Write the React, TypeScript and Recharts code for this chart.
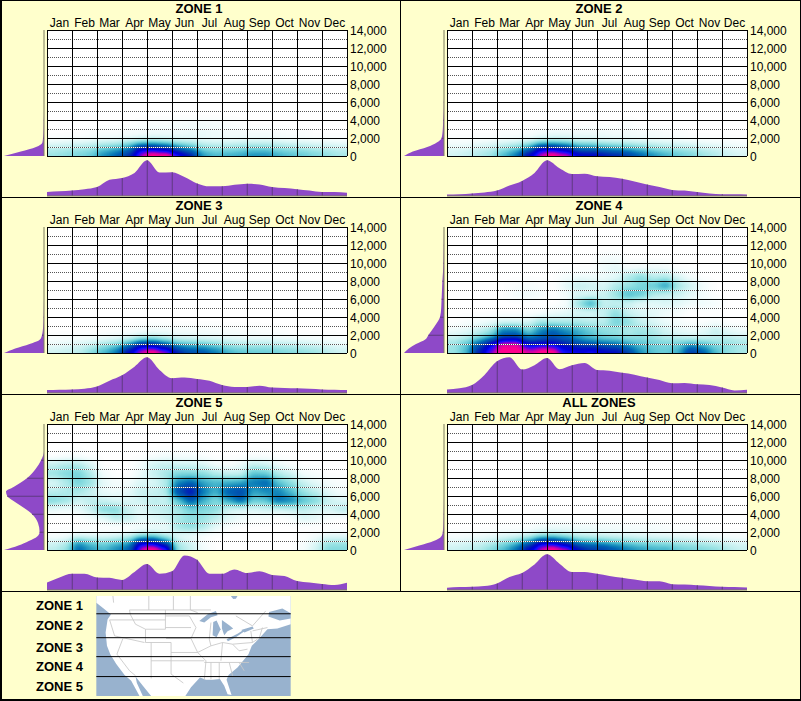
import { Area, Bar, CartesianGrid, ComposedChart, ReferenceLine, Scatter, ScatterChart, XAxis, YAxis } from "recharts";

const MONTHS = ["Jan", "Feb", "Mar", "Apr", "May", "Jun", "Jul", "Aug", "Sep", "Oct", "Nov", "Dec"];
const MONTH_TICKS = [0.5, 1.5, 2.5, 3.5, 4.5, 5.5, 6.5, 7.5, 8.5, 9.5, 10.5, 11.5];
const MONTH_LINES = [0, 1, 2, 3, 4, 5, 6, 7, 8, 9, 10, 11, 12];
const ALT_TICKS = [0, 2000, 4000, 6000, 8000, 10000, 12000, 14000];
const ALT_DOTTED = [1000, 3000, 5000, 7000, 9000, 11000, 13000];

// lower and upper edge of each heat row, bottom to top
const ROW_EDGES = [0, 500, 1000, 1500, 2000, 3000, 4000, 5000, 6000, 7000, 8000, 9000, 10000, 11000];
const SIDE_ALTS = [0, 500, 1000, 1500, 2000, 3000, 4000, 5000, 5500, 6000, 6500, 7000, 8000, 9000, 10000, 11000, 12000, 14000];

// white -> teal -> blue -> magenta, evenly spaced
const HEAT_RAMP = [
  "#ffffff", "#f0fcfc", "#dcf7f7", "#c4f0f0", "#a8e8e8", "#88dce0", "#68ccd8", "#44b4cc", "#2498c0", "#0a7cb8", "#0060b4",
  "#0050b0", "#0038b0", "#0020b8", "#0008c8", "#0000e0", "#1010ff", "#6000e0", "#c000b0", "#ff0090", "#ff0080",
];

// heat rows hold 24 half months, bottom row first
const heatZone1 = [
  [22, 24, 27, 30, 42, 50, 62, 90, 100, 100, 82, 68, 40, 34, 36, 38, 42, 42, 36, 33, 30, 27, 23, 20],
  [18, 20, 22, 24, 32, 38, 46, 80, 80, 72, 54, 42, 28, 25, 26, 27, 30, 30, 26, 24, 22, 20, 18, 16],
  [10, 12, 13, 15, 20, 22, 30, 44, 46, 42, 30, 26, 18, 16, 16, 18, 19, 19, 17, 15, 14, 12, 10, 9],
  [4, 5, 6, 7, 9, 10, 13, 18, 20, 17, 13, 11, 8, 7, 7, 8, 9, 9, 8, 6, 5, 4, 4, 3],
  [0, 0, 0, 1, 2, 2, 3, 4, 5, 5, 5, 6, 6, 5, 4, 4, 3, 3, 2, 1, 1, 0, 0, 0],
  [0, 0, 0, 0, 0, 0, 0, 1, 2, 2, 3, 4, 4, 3, 2, 1, 0, 0, 0, 0, 0, 0, 0, 0],
];
const heatZone2 = [
  [12, 14, 18, 22, 34, 46, 72, 92, 100, 94, 76, 74, 70, 66, 60, 50, 42, 36, 30, 27, 22, 18, 13, 11],
  [9, 10, 14, 16, 24, 32, 48, 80, 80, 70, 52, 50, 46, 42, 38, 34, 28, 24, 22, 20, 16, 14, 10, 8],
  [5, 6, 8, 10, 14, 18, 26, 44, 46, 42, 30, 30, 26, 24, 22, 19, 16, 14, 12, 11, 8, 7, 5, 4],
  [2, 2, 3, 4, 6, 7, 10, 18, 20, 18, 14, 13, 11, 10, 9, 8, 7, 6, 5, 4, 3, 2, 2, 1],
  [0, 0, 0, 0, 1, 1, 2, 4, 6, 6, 5, 5, 5, 4, 4, 3, 3, 2, 1, 0, 0, 0, 0, 0],
  [0, 0, 0, 0, 0, 0, 0, 0, 0, 0, 0, 0, 0, 0, 2, 0, 0, 0, 0, 0, 0, 0, 0, 0],
];
const heatZone3 = [
  [12, 14, 16, 25, 34, 46, 72, 92, 100, 90, 66, 56, 54, 46, 36, 32, 30, 30, 28, 26, 24, 22, 17, 13],
  [8, 10, 12, 17, 25, 32, 50, 80, 80, 64, 46, 40, 38, 32, 25, 22, 22, 22, 20, 19, 17, 15, 11, 9],
  [4, 5, 7, 9, 14, 18, 28, 44, 46, 36, 25, 23, 21, 18, 15, 13, 13, 13, 12, 11, 9, 8, 6, 5],
  [1, 2, 3, 4, 6, 7, 11, 18, 20, 15, 11, 10, 9, 8, 7, 6, 5, 5, 4, 4, 3, 2, 2, 1],
  [0, 0, 0, 0, 0, 1, 2, 4, 5, 5, 4, 4, 3, 3, 2, 2, 2, 1, 1, 0, 0, 0, 0, 0],
];
const heatZone4 = [
  [22, 34, 66, 88, 100, 100, 95, 100, 100, 80, 78, 82, 74, 72, 60, 42, 32, 30, 36, 62, 52, 34, 24, 20],
  [22, 32, 58, 82, 100, 100, 84, 88, 86, 72, 66, 64, 60, 56, 44, 34, 30, 28, 32, 46, 38, 28, 24, 20],
  [20, 28, 44, 66, 92, 94, 62, 64, 66, 60, 50, 44, 40, 38, 32, 30, 28, 26, 26, 28, 26, 22, 22, 20],
  [14, 18, 28, 38, 58, 60, 48, 52, 58, 52, 40, 34, 30, 28, 24, 24, 22, 18, 16, 14, 13, 14, 16, 14],
  [5, 8, 14, 22, 46, 46, 28, 44, 50, 42, 36, 30, 24, 22, 18, 22, 18, 12, 8, 6, 8, 14, 8, 5],
  [0, 2, 4, 6, 10, 10, 10, 20, 18, 18, 18, 16, 16, 28, 24, 14, 10, 6, 3, 1, 1, 3, 0, 0],
  [0, 0, 0, 0, 0, 0, 1, 2, 5, 7, 10, 10, 14, 24, 13, 10, 8, 5, 3, 0, 0, 0, 0, 0],
  [0, 0, 0, 0, 0, 0, 0, 0, 0, 3, 22, 38, 15, 15, 13, 8, 8, 10, 8, 5, 5, 3, 0, 0],
  [0, 0, 0, 0, 0, 3, 5, 3, 0, 4, 10, 10, 13, 22, 34, 30, 18, 15, 13, 8, 3, 0, 0, 0],
  [0, 0, 0, 0, 0, 2, 3, 2, 0, 8, 15, 13, 10, 18, 22, 27, 30, 40, 20, 13, 5, 0, 0, 0],
  [0, 0, 0, 0, 0, 0, 0, 0, 0, 3, 5, 5, 5, 8, 18, 25, 16, 18, 10, 3, 0, 0, 0, 0],
  [0, 0, 0, 0, 0, 0, 0, 0, 0, 0, 0, 0, 5, 8, 3, 4, 5, 4, 0, 0, 0, 0, 0, 0],
  [0, 0, 0, 0, 0, 0, 0, 0, 0, 0, 0, 0, 3, 4, 0, 0, 0, 0, 0, 0, 0, 0, 0, 0],
];
const heatZone5 = [
  [16, 22, 50, 40, 34, 42, 50, 92, 100, 88, 22, 14, 4, 0, 0, 0, 0, 0, 0, 0, 3, 12, 26, 26],
  [12, 18, 42, 32, 28, 34, 38, 80, 80, 56, 18, 12, 3, 0, 0, 0, 0, 0, 0, 0, 2, 10, 22, 22],
  [6, 8, 22, 18, 16, 18, 24, 44, 46, 32, 12, 8, 2, 0, 0, 0, 0, 0, 0, 0, 1, 6, 14, 14],
  [2, 3, 6, 6, 6, 8, 11, 18, 20, 13, 6, 4, 1, 0, 0, 0, 0, 0, 0, 0, 1, 3, 6, 6],
  [0, 0, 0, 0, 0, 0, 0, 4, 6, 6, 20, 24, 18, 7, 2, 0, 0, 0, 0, 0, 0, 0, 0, 0],
  [0, 0, 0, 3, 7, 16, 14, 7, 9, 12, 20, 24, 22, 16, 9, 5, 2, 2, 0, 2, 9, 7, 2, 0],
  [7, 5, 7, 14, 26, 26, 14, 9, 14, 16, 20, 28, 26, 24, 12, 10, 10, 12, 12, 14, 16, 12, 10, 16],
  [26, 22, 12, 16, 14, 10, 10, 12, 16, 14, 32, 52, 36, 26, 38, 50, 30, 32, 48, 44, 32, 26, 14, 10],
  [16, 18, 20, 14, 6, 5, 7, 14, 14, 18, 58, 70, 46, 36, 52, 58, 38, 42, 44, 34, 22, 16, 8, 4],
  [10, 18, 28, 22, 8, 4, 4, 10, 10, 18, 44, 50, 38, 34, 36, 38, 46, 50, 32, 24, 14, 8, 4, 2],
  [22, 26, 28, 18, 4, 0, 0, 6, 14, 20, 26, 26, 24, 18, 14, 14, 32, 30, 18, 13, 4, 2, 0, 0],
  [14, 18, 18, 10, 0, 0, 0, 4, 12, 14, 12, 12, 10, 4, 2, 6, 14, 12, 6, 2, 0, 0, 0, 0],
  [0, 2, 2, 0, 0, 0, 0, 0, 2, 4, 3, 3, 1, 0, 0, 0, 2, 1, 0, 0, 0, 0, 0, 0],
];
const heatAll = [
  [13, 15, 18, 25, 34, 48, 72, 92, 100, 92, 70, 62, 60, 52, 44, 40, 36, 36, 30, 28, 26, 24, 18, 14],
  [9, 11, 13, 17, 25, 34, 50, 80, 80, 66, 48, 42, 40, 35, 30, 27, 25, 24, 21, 20, 18, 16, 12, 10],
  [5, 6, 8, 10, 15, 19, 28, 44, 46, 38, 26, 24, 22, 20, 18, 16, 15, 14, 12, 11, 10, 8, 6, 5],
  [2, 3, 4, 5, 7, 8, 11, 18, 20, 16, 12, 11, 10, 9, 8, 7, 6, 6, 5, 4, 3, 3, 2, 2],
  [0, 0, 0, 0, 1, 1, 2, 5, 6, 6, 5, 5, 4, 4, 3, 3, 3, 2, 1, 1, 0, 0, 0, 0],
];

// share of the busiest half month, Jan 1 to Dec 31
const monthZone1 = [11, 13, 15, 19, 25, 45, 50, 64, 99, 65, 66, 53, 35, 27, 27, 31, 34, 32, 25, 22, 19, 15, 11, 11, 9];
const monthZone2 = [4, 5, 7, 10, 15, 29, 42, 64, 99, 77, 61, 62, 55, 53, 48, 40, 32, 25, 17, 15, 11, 7, 5, 5, 4];
const monthZone3 = [8, 9, 10, 12, 18, 34, 49, 73, 99, 64, 41, 43, 39, 34, 22, 17, 17, 20, 15, 14, 13, 12, 10, 9, 8];
const monthZone4 = [10, 13, 22, 50, 88, 99, 65, 77, 97, 66, 77, 83, 64, 62, 56, 51, 43, 36, 27, 28, 24, 22, 15, 7, 9];
const monthZone5 = [21, 35, 45, 45, 35, 34, 28, 50, 72, 45, 52, 96, 84, 45, 45, 57, 47, 52, 42, 39, 25, 21, 17, 14, 20];
const monthAll = [6, 8, 9, 11, 18, 36, 47, 71, 99, 73, 50, 50, 45, 39, 34, 29, 24, 24, 16, 15, 13, 11, 9, 8, 7];

// share of the busiest altitude, one value per SIDE_ALTS
const altZone1 = [100, 58, 20, 4, 2.5, 1, 0.5, 0, 0, 0, 0, 0, 0, 0, 0, 0, 0, 0];
const altZone2 = [100, 78, 42, 18, 6, 3, 2, 0.8, 0.5, 0.4, 0, 0, 0, 0, 0, 0, 0, 0];
const altZone3 = [100, 72, 36, 10, 5, 2, 1, 0.5, 0.3, 0, 0, 0, 0, 0, 0, 0, 0, 0];
const altZone4 = [100, 88, 70, 47, 39, 23, 10, 7, 6.5, 6, 5.5, 5, 4, 2.5, 1.5, 1, 0.5, 0];
const altZone5 = [100, 64, 38, 17, 11, 15, 30, 61, 78, 92, 95, 76, 42, 21, 7, 0, 0, 0];
const altAll = [100, 62, 26, 7, 3, 1.5, 0.8, 0.4, 0.2, 0, 0, 0, 0, 0, 0, 0, 0, 0];

const ZONES = [
  { title: "ZONE 1", heat: heatZone1, month: monthZone1, alt: altZone1 },
  { title: "ZONE 2", heat: heatZone2, month: monthZone2, alt: altZone2 },
  { title: "ZONE 3", heat: heatZone3, month: monthZone3, alt: altZone3 },
  { title: "ZONE 4", heat: heatZone4, month: monthZone4, alt: altZone4 },
  { title: "ZONE 5", heat: heatZone5, month: monthZone5, alt: altZone5 },
  { title: "ALL ZONES", heat: heatAll, month: monthAll, alt: altAll },
];

const MAP_LABELS = [
  { text: "ZONE 1", top: 598 },
  { text: "ZONE 2", top: 618 },
  { text: "ZONE 3", top: 640 },
  { text: "ZONE 4", top: 659 },
  { text: "ZONE 5", top: 679 },
];

const PURPLE = "#8e49c8";
const RIB = "#5e3a80";
const OLIVE = "#7c7c60";
const FONT = '"Liberation Sans", Arial, sans-serif';

const PX_PER_MONTH = 25;
const PX_PER_ALT = 126 / 14000;

const rampTable = (start: number) =>
  HEAT_RAMP.map((c) => (parseInt(c.slice(start, start + 2), 16) / 255).toFixed(3)).join(" ");

function heatPoints(rows: number[][]) {
  const points: { x: number; y: number; rowIndex: number; colIndex: number; h: number; v: number }[] = [];
  rows.forEach((row, rowIndex) => {
    const low = ROW_EDGES[rowIndex];
    const high = ROW_EDGES[rowIndex + 1];
    row.forEach((v, colIndex) => {
      if (v > 0) points.push({ x: (colIndex + 0.5) / 2, y: (low + high) / 2, rowIndex, colIndex, h: high - low, v });
    });
  });
  return points;
}

function HeatCell(props: any) {
  const { cx, cy, payload } = props;
  const halfW = PX_PER_MONTH / 4;
  const halfH = (payload.h * PX_PER_ALT) / 2;
  // edge cells run past the plot so the blur does not fade at the frame
  const left = cx - halfW - (payload.colIndex === 0 ? 20 : 0);
  const right = cx + halfW + (payload.colIndex === 23 ? 20 : 0);
  const bottom = cy + halfH + (payload.rowIndex === 0 ? 20 : 0);
  return <rect x={left} y={cy - halfH} width={right - left} height={bottom - cy + halfH} fill="#000" fillOpacity={payload.v / 100} />;
}

function Panel({ zone, col, row }: { zone: (typeof ZONES)[number]; col: number; row: number }) {
  const monthData = zone.month.map((v, k) => ({ x: k / 2, v, rib: k % 2 === 0 && k > 0 && k < 24 ? v : null }));
  const altData = zone.alt.map((v, k) => ({ alt: SIDE_ALTS[k], v, rib: SIDE_ALTS[k] % 2000 === 0 && k > 0 ? v : null }));

  return (
    <div style={{ position: "absolute", left: col * 400, top: row * 197, width: 400, height: 197 }}>
      <div style={{ position: "absolute", left: 0, width: 398, top: 3, textAlign: "center", font: `bold 13px/12px ${FONT}`, color: "#000" }}>
        {zone.title}
      </div>
      <div className="heat" style={{ position: "absolute", left: 0, top: 0 }}>
        <ScatterChart width={400} height={197} margin={{ top: 0, right: 0, bottom: 41, left: 47 }}>
          <XAxis
            type="number"
            dataKey="x"
            orientation="top"
            height={30}
            domain={[0, 12]}
            ticks={MONTH_TICKS}
            interval={0}
            tickFormatter={(value: number) => MONTHS[Math.floor(value)]}
            tick={{ fontSize: 12, fill: "#000", fontFamily: FONT }}
            tickSize={0}
            tickMargin={3}
            axisLine={false}
            tickLine={false}
          />
          <YAxis
            type="number"
            dataKey="y"
            orientation="right"
            width={53}
            domain={[0, 14000]}
            ticks={ALT_TICKS}
            interval={0}
            tickFormatter={(value: number) => value.toLocaleString("en-US")}
            tick={{ fontSize: 12, fill: "#000", fontFamily: FONT, dy: 1 }}
            tickSize={0}
            tickMargin={3}
            axisLine={false}
            tickLine={false}
          />
          <Scatter data={heatPoints(zone.heat)} shape={HeatCell} isAnimationActive={false} />
          {ALT_DOTTED.map((alt) => (
            <ReferenceLine key={`w${alt}`} y={alt} stroke="#fff" zIndex={700} />
          ))}
          {ALT_DOTTED.map((alt) => (
            <ReferenceLine key={`d${alt}`} y={alt} stroke="#555" strokeDasharray="1 1" zIndex={710} />
          ))}
          <CartesianGrid horizontalValues={ALT_TICKS} verticalValues={MONTH_LINES} stroke="#000" strokeOpacity={1} zIndex={720} />
        </ScatterChart>
      </div>
      <div style={{ position: "absolute", left: 4, top: 30 }}>
        <ComposedChart layout="vertical" width={41} height={126} data={altData} margin={{ top: 0, right: 0, bottom: 0, left: 0 }}>
          <XAxis type="number" domain={[0, 100]} reversed hide />
          <YAxis
            type="number"
            dataKey="alt"
            orientation="right"
            width={1}
            domain={[0, 14000]}
            reversed
            tick={false}
            tickLine={false}
            axisLine={{ stroke: OLIVE }}
          />
          <Area dataKey="v" type="monotone" fill={PURPLE} fillOpacity={1} stroke="none" isAnimationActive={false} />
          <Bar dataKey="rib" barSize={1} fill={RIB} isAnimationActive={false} />
        </ComposedChart>
      </div>
      <div style={{ position: "absolute", left: 47, top: 160 }}>
        <ComposedChart width={300} height={37} data={monthData} margin={{ top: 0, right: 0, bottom: 0, left: 0 }}>
          <XAxis type="number" dataKey="x" height={1} domain={[0, 12]} tick={false} tickLine={false} axisLine={{ stroke: OLIVE }} />
          <YAxis type="number" domain={[0, 100]} hide />
          <Area dataKey="v" type="monotone" fill={PURPLE} fillOpacity={1} stroke="none" isAnimationActive={false} />
          <Bar dataKey="rib" barSize={1} fill={RIB} isAnimationActive={false} />
        </ComposedChart>
      </div>
    </div>
  );
}

// rough outline of the reference's locator map, in a 585x301 box
const LAND =
  "M0 0 H585 V85 L545 98 L515 100 L490 128 L468 150 L458 175 L425 215 L398 238 L392 252 L407 298 L395 296 L385 270 L372 250 L350 252 L330 252 L312 245 L285 275 L268 301 H165 L140 270 L118 242 L122 262 L140 301 L130 301 L105 255 L85 238 L60 205 L42 175 L32 150 L28 110 L34 70 L44 56 L22 38 L0 20 Z";
const LAKES = [
  "M310 75 L335 55 L360 45 L365 58 L345 64 L325 80 Z",
  "M352 78 L362 74 L374 100 L362 124 L350 118 Z",
  "M378 72 L400 88 L412 98 L395 106 L385 118 L378 98 Z",
  "M392 130 L425 114 L446 100 L446 106 L420 124 L396 136 Z",
  "M436 102 L470 92 L474 98 L446 110 Z",
  "M405 0 H425 L420 8 L412 9 Z",
  "M520 48 L560 38 L585 52 V68 L552 74 L518 62 Z",
];
const STATE_LINES = [
  "M100 42 H345", "M40 72 H208", "M40 72 L55 120 L145 140", "M100 42 L102 55 L118 85 L148 100 L148 140", "M148 100 H208 V42",
  "M208 60 H280", "M208 95 H285", "M210 128 H285", "M148 140 H225", "M165 140 V248", "M225 140 V195", "M80 128 L62 175 L100 225 L118 240",
  "M225 170 H305", "M225 195 H325", "M165 195 H225", "M225 195 V235 L262 262", "M280 60 L300 95 L285 128 L305 170 L330 195 L325 252",
  "M325 200 H460", "M305 170 L345 150 L380 140", "M345 80 L340 130 L345 150", "M380 140 L375 195", "M380 140 L410 145 L430 165 L455 160",
  "M370 200 V250", "M400 200 L410 240", "M430 200 L445 225", "M345 200 V250", "M410 145 L470 140 L485 130", "M470 140 L465 105", "M470 105 L515 95",
  "M50 0 L52 20", "M158 0 V42", "M232 0 V42", "M283 0 V42 L305 50", "M420 60 L470 90 L510 45", "M490 128 L500 95",
];
const ZONE_LINES = [23.5, 47.5, 66.5, 86.5];

function LocatorMap() {
  return (
    <svg width={195} height={100} viewBox="0 0 585 301" style={{ position: "absolute", left: 96, top: 596 }}>
      <rect width={585} height={301} fill="#98b2ce" />
      <path d={LAND} fill="#fff" />
      {STATE_LINES.map((d) => (
        <path key={d} d={d} fill="none" stroke="#c8c8c8" strokeWidth={2.6} />
      ))}
      {LAKES.map((d) => (
        <path key={d} d={d} fill="#98b2ce" />
      ))}
      {ZONE_LINES.map((y) => (
        <line key={y} x1={0} x2={585} y1={y * 3 - 17} y2={y * 3 - 17} stroke="#000" strokeWidth={3} />
      ))}
    </svg>
  );
}

export default function App() {
  return (
    <div style={{ position: "fixed", left: 0, top: 0, width: 801, height: 701, background: "#ffffcc", overflow: "hidden" }}>
      <style>{`
        .heat .recharts-scatter { filter: url(#heatRamp); clip-path: url(#heatClip); }
        .heat line { shape-rendering: crispEdges; }
      `}</style>
      <svg width={0} height={0} style={{ position: "absolute" }}>
        <defs>
          <clipPath id="heatClip" clipPathUnits="userSpaceOnUse">
            <rect x={47} y={30} width={300} height={126} />
          </clipPath>
          <filter id="heatRamp" filterUnits="userSpaceOnUse" x={10} y={0} width={375} height={190} colorInterpolationFilters="sRGB">
            <feGaussianBlur stdDeviation="4.5 3" />
            <feColorMatrix type="matrix" values="0 0 0 1 0  0 0 0 1 0  0 0 0 1 0  0 0 0 0 1" />
            <feComponentTransfer>
              <feFuncR type="table" tableValues={rampTable(1)} />
              <feFuncG type="table" tableValues={rampTable(3)} />
              <feFuncB type="table" tableValues={rampTable(5)} />
            </feComponentTransfer>
          </filter>
        </defs>
      </svg>
      {ZONES.map((zone, i) => (
        <Panel key={zone.title} zone={zone} col={i % 2} row={Math.floor(i / 2)} />
      ))}
      {MAP_LABELS.map((label) => (
        <div key={label.text} style={{ position: "absolute", left: 36, top: label.top, font: `bold 13px/15px ${FONT}`, color: "#000" }}>
          {label.text}
        </div>
      ))}
      <LocatorMap />
      {/* frame */}
      <div style={{ position: "absolute", left: 0, top: 0, width: 2, height: 701, background: "#000" }} />
      <div style={{ position: "absolute", left: 400, top: 0, width: 1, height: 591, background: "#000" }} />
      <div style={{ position: "absolute", left: 800, top: 0, width: 1, height: 701, background: "#000" }} />
      <div style={{ position: "absolute", left: 0, top: 0, width: 801, height: 1, background: "#000" }} />
      <div style={{ position: "absolute", left: 0, top: 197, width: 801, height: 1, background: "#000" }} />
      <div style={{ position: "absolute", left: 0, top: 394, width: 801, height: 1, background: "#000" }} />
      <div style={{ position: "absolute", left: 0, top: 591, width: 801, height: 1, background: "#000" }} />
      <div style={{ position: "absolute", left: 0, top: 699, width: 801, height: 2, background: "#000" }} />
    </div>
  );
}
